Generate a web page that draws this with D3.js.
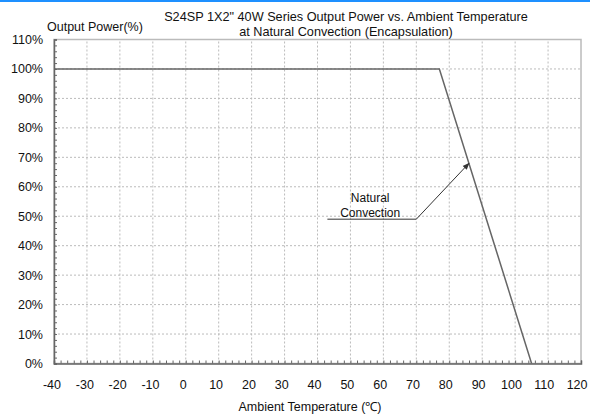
<!DOCTYPE html>
<html>
<head>
<meta charset="utf-8">
<script src="https://cdn.jsdelivr.net/npm/d3@7"></script>
<style>
  body { margin: 0; background: #fff; }
  text { font-family: "Liberation Sans", Arial, sans-serif; fill: #111; }
</style>
</head>
<body>
<svg id="chart" width="590" height="417"></svg>
<script>
// chart data
var temps = [-40, 77, 105];
var power = [100, 100, 0];
var xTicks = [-40, -30, -20, -10, 0, 10, 20, 30, 40, 50, 60, 70, 80, 90, 100, 110, 120];
var yTicks = [0, 10, 20, 30, 40, 50, 60, 70, 80, 90, 100, 110];
var titleLines = ["S24SP 1X2\" 40W Series Output Power vs. Ambient Temperature", "at Natural Convection (Encapsulation)"];
var noteLines = ["Natural", "Convection"];
// annotation: label line start/end and arrow tip, in data units
var noteLine = [[43, 49], [70, 49]];
var noteArrow = [86, 68];

var svg = d3.select("#chart");
var margin = { left: 54, right: 9, top: 39.5, bottom: 53.5 };
var width = 590 - margin.left - margin.right;
var height = 417 - margin.top - margin.bottom;

var x = d3.scaleLinear().domain([-40, 120]).range([margin.left, margin.left + width]);
var y = d3.scaleLinear().domain([0, 110]).range([margin.top + height, margin.top]);

// blue strip at the top of the screenshot
svg.append("rect").attr("x", 0).attr("y", 0).attr("width", 590).attr("height", 2).attr("fill", "#1e90ff");

svg.append("defs").append("marker")
  .attr("id", "arrow")
  .attr("viewBox", "0 0 10 10")
  .attr("refX", 9).attr("refY", 5)
  .attr("markerWidth", 7).attr("markerHeight", 7)
  .attr("orient", "auto")
  .append("path").attr("d", "M0,1 L10,5 L0,9 Z").attr("fill", "#333");

// grid
var grid = svg.append("g");
grid.selectAll(".vg").data(xTicks.slice(1, -1)).enter().append("line")
  .attr("x1", d => x(d)).attr("x2", d => x(d))
  .attr("y1", y(0)).attr("y2", y(110))
  .attr("stroke", "#bbb").attr("stroke-width", 1).attr("stroke-dasharray", "2,2");
grid.selectAll(".hg").data(yTicks.slice(1, -1)).enter().append("line")
  .attr("x1", x(-40)).attr("x2", x(120))
  .attr("y1", d => y(d)).attr("y2", d => y(d))
  .attr("stroke", "#bbb").attr("stroke-width", 1).attr("stroke-dasharray", "2,2");

// frame
svg.append("rect")
  .attr("x", x(-40)).attr("y", y(110))
  .attr("width", x(120) - x(-40)).attr("height", y(0) - y(110))
  .attr("fill", "none").attr("stroke", "#bbb").attr("stroke-width", 1.5);

// axes with minor ticks pointing inward
var xAxis = svg.append("g").attr("transform", "translate(0," + y(0) + ")")
  .call(d3.axisTop(x).ticks(80).tickSize(3).tickFormat(""));
xAxis.select(".domain").attr("stroke", "#666").attr("stroke-width", 1.5);
xAxis.selectAll(".tick line").attr("stroke", "#666");

var yAxis = svg.append("g").attr("transform", "translate(" + x(-40) + ",0)")
  .call(d3.axisRight(y).tickValues(d3.range(0, 111, 2)).tickSize(3).tickFormat(""));
yAxis.select(".domain").attr("stroke", "#666").attr("stroke-width", 1.5);
yAxis.selectAll(".tick line").attr("stroke", "#666");

// tick labels
svg.selectAll(".xl").data(xTicks).enter().append("text")
  .attr("x", d => x(d) - 2 - (d + 40) * 0.012).attr("y", y(0) + 25)
  .attr("text-anchor", "middle").attr("font-size", 12.5)
  .text(d => d);
svg.selectAll(".yl").data(yTicks).enter().append("text")
  .attr("x", x(-40) - 11).attr("y", d => y(d) + 4.5)
  .attr("text-anchor", "end").attr("font-size", 12.5)
  .text(d => d + "%");

// curve
var line = d3.line().x(d => x(d[0])).y(d => y(d[1]));
svg.append("path")
  .datum(d3.zip(temps, power))
  .attr("d", line)
  .attr("fill", "none").attr("stroke", "#666").attr("stroke-width", 1.5);

// annotation
svg.append("path")
  .attr("d", "M" + x(noteLine[0][0]) + "," + y(noteLine[0][1]) +
             "L" + x(noteLine[1][0]) + "," + y(noteLine[1][1]) +
             "L" + x(noteArrow[0]) + "," + y(noteArrow[1]))
  .attr("fill", "none").attr("stroke", "#333").attr("stroke-width", 1)
  .attr("marker-end", "url(#arrow)");
svg.selectAll(".nl").data(noteLines).enter().append("text")
  .attr("x", x(56)).attr("y", (d, i) => y(49) - 17 + i * 15)
  .attr("text-anchor", "middle").attr("font-size", 12)
  .text(d => d);

// titles
svg.selectAll(".tl").data(titleLines).enter().append("text")
  .attr("x", 346).attr("y", (d, i) => 21 + i * 15)
  .attr("text-anchor", "middle").attr("font-size", 12.7)
  .text(d => d);
svg.append("text").attr("x", 47).attr("y", 31).attr("font-size", 12.5).text("Output Power(%)");
svg.append("text").attr("x", 310).attr("y", 411).attr("text-anchor", "middle").attr("font-size", 12.5).text("Ambient Temperature (℃)");
</script>
</body>
</html>
